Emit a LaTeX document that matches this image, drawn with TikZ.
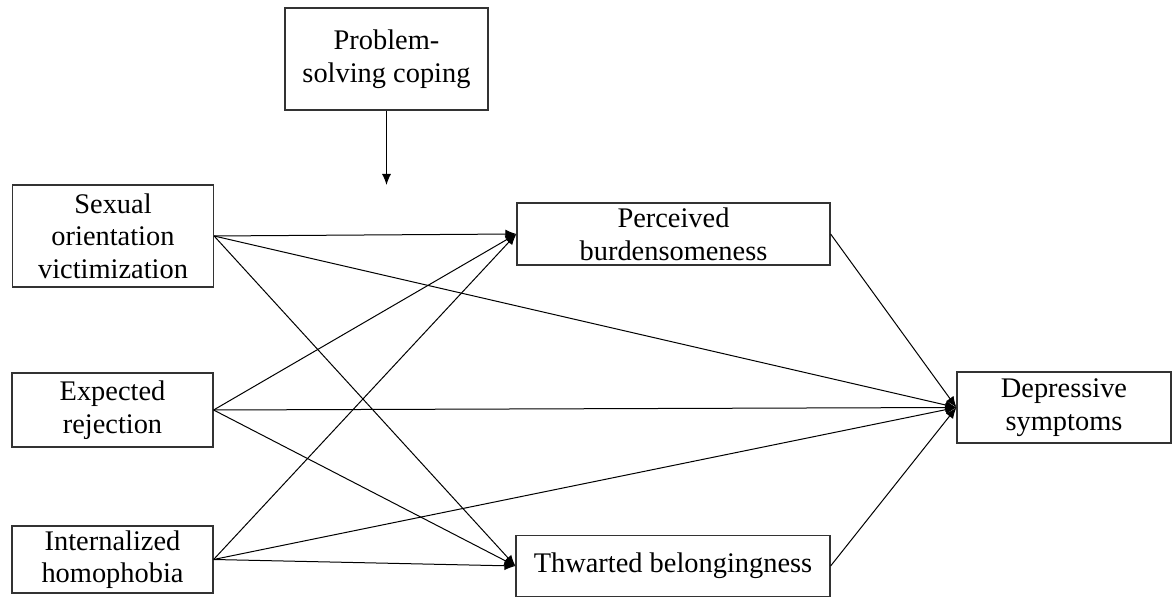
\documentclass[tikz,border=0pt]{standalone}
\usepackage{fontspec}
\setmainfont{Liberation Serif}
\usepackage{tikz}
\usetikzlibrary{shapes,arrows.meta,positioning,calc}

\tikzset{
  box/.style={draw=black!80, line width=0.6pt, align=center, inner sep=0pt,
    font=\fontsize{14.2}{16.3}\selectfont},
  path/.style={draw, line width=0.5pt, -{Latex[length=5.5pt,width=4.5pt]}}
}

\begin{document}
\begin{tikzpicture}[x=0.5pt,y=-0.5pt]
            \useasboundingbox (0,0) rectangle (1172,597);
            % Moderator
            \node[box, minimum width=101.5pt, minimum height=51pt] (coping) at (386.5,59) {Problem-\\solving coping};
            \coordinate (modpt) at (386.5,185);
            % Predictors
            \node[box, minimum width=100.5pt, minimum height=51pt] (sov) at (113,236) {Sexual\\orientation\\victimization};
            \node[box, minimum width=100.5pt, minimum height=37pt] (exp) at (112.5,410) {Expected\\rejection};
            \node[box, minimum width=100.5pt, minimum height=33.5pt] (hom) at (112.5,559.5) {Internalized\\homophobia};
            % Mediators
            \node[box, minimum width=156.5pt, minimum height=31pt] (pb) at (673.5,234) {Perceived\\burdensomeness};
            \node[box, minimum width=157pt, minimum height=30.5pt] (tb) at (673,566) {Thwarted belongingness};
            % Outcome
            \node[box, minimum width=107pt, minimum height=35.5pt] (dep) at (1064,407.5) {Depressive\\symptoms};
            % Paths
            \draw[path] (coping.south) -- (modpt);
            \foreach \src in {sov,exp,hom} {
              \draw[path] (\src.east) -- (pb.west);
              \draw[path] (\src.east) -- (tb.west);
              \draw[path] (\src.east) -- (dep.west);
            }
            \draw[path] (pb.east) -- (dep.west);
            \draw[path] (tb.east) -- (dep.west);
        \end{tikzpicture}
\end{document}
